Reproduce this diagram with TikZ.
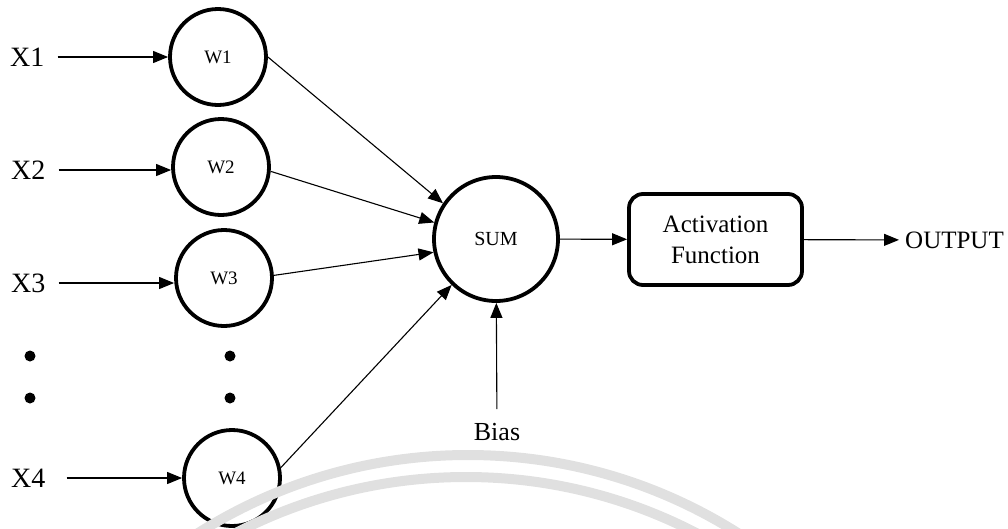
\documentclass[tikz,border=0pt]{standalone}
\usepackage{fontspec}
\setmainfont{Liberation Serif}
\usetikzlibrary{arrows.meta}
\definecolor{watermark}{HTML}{E0E0E0}
\begin{document}
\begin{tikzpicture}[x=1pt, y=-1pt,
    weight/.style={circle, draw, line width=3.8pt, minimum size=96pt, inner sep=0pt, font=\fontsize{19}{21}\selectfont},
    input/.style={inner xsep=13pt, inner ysep=0pt, font=\fontsize{28}{32}\selectfont},
    dot/.style={circle, fill=black, minimum size=11pt, inner sep=0pt},
    link/.style={line width=1.1pt, -{Triangle[length=15pt,width=12pt]}}]
    \useasboundingbox (0,0) rectangle (1008,528);

    \node[input, anchor=west] (1) at (-3,57) {X1};
    \node[input, anchor=west] (2) at (-2,170) {X2};
    \node[input, anchor=west] (3) at (-2,283) {X3};
    \node[input, anchor=west, inner xsep=21pt] (4) at (-10,478) {X4};

    \node[weight] (5) at (218,57) {W1};
    \node[weight] (6) at (221,167) {W2};
    \node[weight] (7) at (224,278) {W3};
    \node[weight] (8) at (232,478) {W4};

    \node[dot] (9) at (30,356) {};
    \node[dot] (10) at (30,398) {};
    \node[dot] (11) at (230,356) {};
    \node[dot] (12) at (230,398) {};

    \node[weight, minimum size=124pt, font=\fontsize{20}{22}\selectfont] (13) at (496,239) {SUM};
    \node[draw, rectangle, rounded corners=14pt, line width=3.8pt, minimum width=173pt, minimum height=91pt,
          align=center, font=\fontsize{25}{31}\selectfont] (14) at (715.5,239.5) {Activation\\Function};
    \node[anchor=west, inner xsep=6pt, font=\fontsize{25}{28}\selectfont] (15) at (899,240) {OUTPUT};
    \node[inner xsep=2pt, inner ysep=14pt, font=\fontsize{26}{28}\selectfont] (16) at (497,432) {Bias};

    \draw[link] (1) -- (1 -| 5.west);
    \draw[link] (2) -- (2 -| 6.west);
    \draw[link] (3) -- (3 -| 7.west);
    \draw[link] (4) -- (4 -| 8.west);
    \draw[link] (5.east) to (13.146);
    \draw[link] (6.-5) to (13.165);
    \draw[link] (7.3) to (13.192);
    \draw[link] (8.12) to (13.226);
    \draw[link] (16) to (13);
    \draw[link] (13) to (14);
    \draw[link] (14) to (15);

    \begin{scope}
    \clip (0,0) rectangle (1008,528);
    \draw[watermark, line width=10pt] (468,960) circle[radius=505];
    \draw[watermark, line width=10pt] (466,977) circle[radius=500];
    \end{scope}

\end{tikzpicture}
\end{document}
